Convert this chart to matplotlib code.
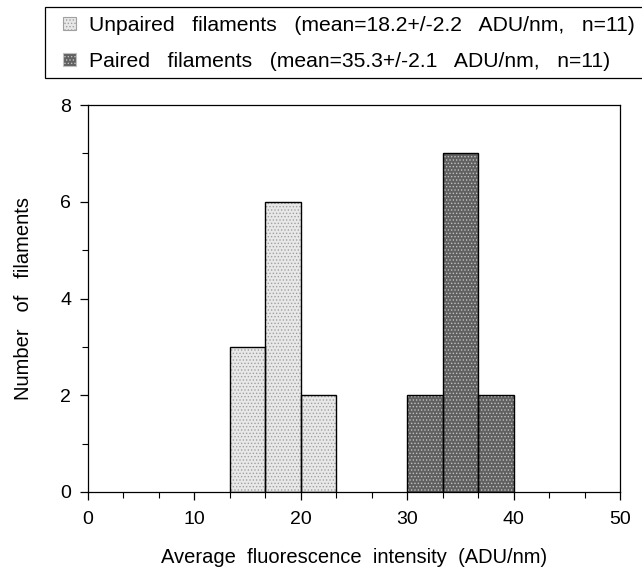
import matplotlib
matplotlib.use("Agg")
import matplotlib.pyplot as plt
import numpy as np
from matplotlib.patches import Patch, Rectangle
from matplotlib.ticker import MultipleLocator

plt.rcParams['font.family'] = ['Liberation Sans', 'DejaVu Sans']
plt.rcParams['hatch.linewidth'] = 0.6

# Data
unpaired_edges = [13.33, 16.67, 20.0, 23.33]
unpaired_counts = [3, 6, 2]
paired_edges = [30.0, 33.33, 36.67, 40.0]
paired_counts = [2, 7, 2]
unpaired_label = "Unpaired   filaments   (mean=18.2+/-2.2   ADU/nm,   n=11)"
paired_label = "Paired   filaments   (mean=35.3+/-2.1   ADU/nm,   n=11)"
xlabel = "Average  fluorescence  intensity  (ADU/nm)"
ylabel = "Number   of   filaments"
xticks = [0, 10, 20, 30, 40, 50]
yticks = [0, 2, 4, 6, 8]

W, H = 642, 573
fig = plt.figure(figsize=(W/100, H/100), dpi=100)
ax = fig.add_axes([88/W, 1-492/H, (620-88)/W, (492-105)/H])

light_fc = '#e8e8e8'
light_hc = '#a0a0a0'
dark_fc = '#606060'
dark_hc = '#c0c0c0'

def draw(edges, counts, fc, hc):
    edges = np.array(edges)
    widths = np.diff(edges)
    ax.bar(edges[:-1], counts, width=widths, align='edge',
           facecolor=fc, edgecolor=hc, hatch='.....', linewidth=0)
    ax.bar(edges[:-1], counts, width=widths, align='edge',
           facecolor='none', edgecolor='black', linewidth=1.0)

draw(unpaired_edges, unpaired_counts, light_fc, light_hc)
draw(paired_edges, paired_counts, dark_fc, dark_hc)

ax.set_xlim(0, 50)
ax.set_ylim(0, 8)
ax.set_xticks(xticks)
ax.set_yticks(yticks)
ax.xaxis.set_minor_locator(MultipleLocator(10/3))
ax.yaxis.set_minor_locator(MultipleLocator(1))
ax.tick_params(axis='both', which='major', direction='out', length=6, width=0.9,
               labelsize=14)
ax.tick_params(axis='both', which='minor', direction='out', length=4, width=0.8)
ax.tick_params(axis='x', pad=8)
ax.tick_params(axis='y', pad=6)
for s in ax.spines.values():
    s.set_linewidth(0.9)

ax.set_xlabel(xlabel, fontsize=14.5, labelpad=14)
ax.set_ylabel(ylabel, fontsize=14.5, labelpad=20)

# legend frame (extends past right edge as in the reference)
fig.patches.append(Rectangle((45/W, 1-78/H), 700/W, 71/H, transform=fig.transFigure,
                             facecolor='white', edgecolor='black', linewidth=0.9,
                             clip_on=False, zorder=0))

handles = [Patch(facecolor=light_fc, edgecolor=light_hc, hatch='.....', linewidth=0.8),
           Patch(facecolor=dark_fc, edgecolor=dark_hc, hatch='.....', linewidth=0.8)]
leg = fig.legend(handles, [unpaired_label, paired_label], loc='upper left',
                 bbox_to_anchor=(63/W, 1-16/H), fontsize=15.2, frameon=False,
                 handlelength=0.6, handleheight=0.6,
                 handletextpad=0.65, borderpad=0, labelspacing=0.8,
                 borderaxespad=0)

fig.savefig("out.png", dpi=100)
